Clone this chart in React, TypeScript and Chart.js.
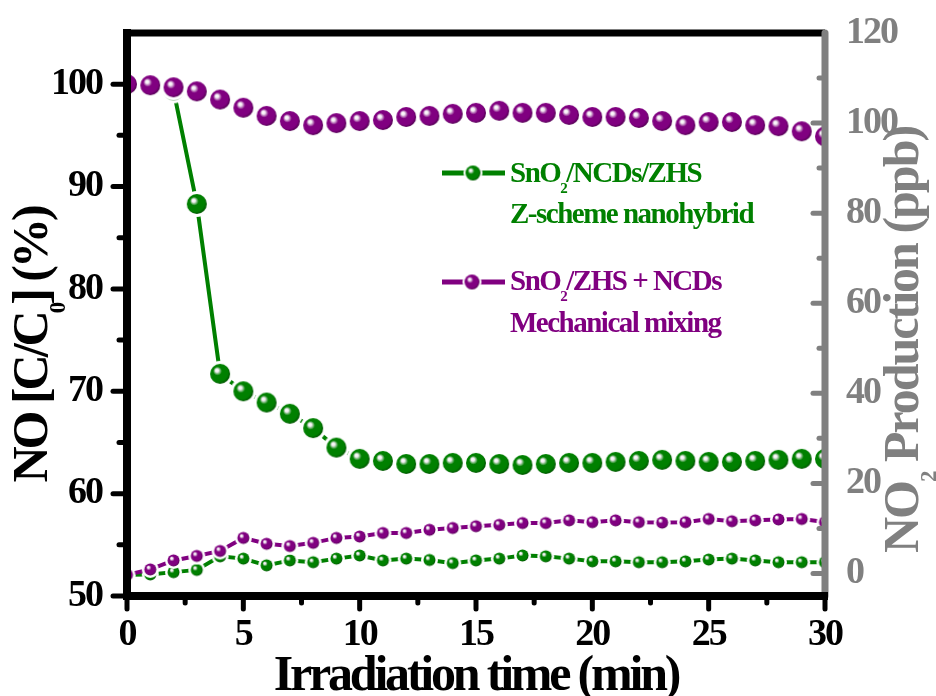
import React, { useEffect, useRef } from 'react';
import { Chart, registerables } from 'chart.js';

Chart.register(...registerables);

const FONT = '"Liberation Serif", "Times New Roman", serif';
const GREEN = '#008000';
const PURPLE = '#800080';
const GRAY = '#808080';

// Irradiation time (min)
const TIME = [0, 1, 2, 3, 4, 5, 6, 7, 8, 9, 10, 11, 12, 13, 14, 15, 16, 17, 18, 19, 20, 21, 22, 23, 24, 25, 26, 27, 28, 29, 30];

// NO [C/C0] (%) – left axis
const NO_ZSCHEME = [100, 100, 99.4, 88.3, 71.7, 70.0, 68.9, 67.8, 66.4, 64.5, 63.4, 63.2, 62.9, 62.9, 63.0, 63.0, 62.9, 62.8, 62.9, 63.0, 63.0, 63.1, 63.2, 63.3, 63.2, 63.1, 63.1, 63.2, 63.3, 63.4, 63.4];
const NO_MIXING = [100, 99.9, 99.7, 99.3, 98.5, 97.7, 96.9, 96.4, 96.0, 96.2, 96.4, 96.5, 96.8, 96.9, 97.1, 97.2, 97.4, 97.2, 97.2, 97.0, 96.8, 96.8, 96.7, 96.4, 96.0, 96.3, 96.3, 96.0, 95.9, 95.4, 94.9];

// NO2 production (ppb) – right axis
const NO2_ZSCHEME = [-0.3, -0.2, 0.3, 0.8, 3.8, 3.3, 1.8, 2.9, 2.5, 3.3, 4.0, 2.9, 3.3, 3.0, 2.3, 2.9, 3.3, 4.0, 3.8, 3.3, 2.7, 2.7, 2.5, 2.5, 2.7, 3.1, 3.3, 2.9, 2.5, 2.5, 2.5];
const NO2_MIXING = [-0.3, 0.9, 2.9, 3.9, 5.0, 7.9, 6.6, 6.1, 6.8, 7.9, 8.2, 9.0, 9.0, 9.7, 10.1, 10.5, 10.8, 11.2, 11.2, 11.8, 11.4, 11.8, 11.4, 11.3, 11.4, 12.1, 11.6, 11.8, 12.0, 12.1, 11.4];

// Tick values
const X_TICKS = [0, 5, 10, 15, 20, 25, 30];
const X_MINOR = [2.5, 7.5, 12.5, 17.5, 22.5, 27.5];
const LEFT_TICKS = [50, 60, 70, 80, 90, 100];
const LEFT_MINOR = [55, 65, 75, 85, 95];
const RIGHT_TICKS = [0, 20, 40, 60, 80, 100, 120];
const RIGHT_MINOR = [10, 30, 50, 70, 90, 110];

type Part = { t: string; sub?: boolean };

function makeSphere(color: string, dark: string, r: number, ring: number): HTMLCanvasElement {
  const R = r + ring;
  const size = Math.ceil(2 * R + 2);
  const c = document.createElement('canvas');
  c.width = size;
  c.height = size;
  const g = c.getContext('2d')!;
  const cx = size / 2;
  const cy = size / 2;
  if (ring > 0) {
    g.fillStyle = '#ffffff';
    g.beginPath();
    g.arc(cx, cy, R, 0, Math.PI * 2);
    g.fill();
  }
  const grad = g.createRadialGradient(cx - 0.35 * r, cy - 0.38 * r, 0, cx - 0.1 * r, cy - 0.1 * r, r * 1.15);
  grad.addColorStop(0, '#ffffff');
  grad.addColorStop(0.14, '#f4eef4');
  grad.addColorStop(0.38, color);
  grad.addColorStop(0.8, color);
  grad.addColorStop(1, dark);
  g.fillStyle = grad;
  g.beginPath();
  g.arc(cx, cy, r, 0, Math.PI * 2);
  g.fill();
  return c;
}

function drawRich(ctx: CanvasRenderingContext2D, parts: Part[], x: number, y: number, size: number, color: string, align: 'left' | 'center', spacing: number, subScale = 0.5, subShift = 0.37) {
  ctx.save();
  ctx.fillStyle = color;
  ctx.textBaseline = 'alphabetic';
  ctx.textAlign = 'left';
  (ctx as any).letterSpacing = spacing + 'px';
  const mainFont = `bold ${size}px ${FONT}`;
  const subFont = `bold ${Math.round(size * subScale)}px ${FONT}`;
  const widths = parts.map((p) => {
    ctx.font = p.sub ? subFont : mainFont;
    return ctx.measureText(p.t).width;
  });
  const total = widths.reduce((a, b) => a + b, 0);
  let cx = align === 'center' ? x - total / 2 : x;
  parts.forEach((p, i) => {
    ctx.font = p.sub ? subFont : mainFont;
    ctx.fillText(p.t, cx, p.sub ? y + size * subShift : y);
    cx += widths[i];
  });
  ctx.restore();
}

export default function App() {
  const ref = useRef<HTMLCanvasElement | null>(null);

  useEffect(() => {
    document.body.style.margin = '0';
    const canvas = ref.current!;
    const bigGreen = makeSphere(GREEN, '#004d00', 10, 3);
    const bigPurple = makeSphere(PURPLE, '#4d004d', 10, 3);
    const smallGreen = makeSphere(GREEN, '#004d00', 6, 2.5);
    const smallPurple = makeSphere(PURPLE, '#4d004d', 6, 2.5);
    const legGreen = makeSphere(GREEN, '#004d00', 7.5, 2);
    const legPurple = makeSphere(PURPLE, '#4d004d', 7.5, 2);

    const decor = {
      id: 'decor',
      beforeDraw(chart: any) {
        chart.ctx.letterSpacing = '-2px';
      },
      afterDatasetsDraw(chart: any) {
        const ctx: CanvasRenderingContext2D = chart.ctx;
        const { left, right, top, bottom } = chart.chartArea;
        const xs = chart.scales.x;
        const ys = chart.scales.y;
        const y1 = chart.scales.y1;
        ctx.save();
        ctx.lineCap = 'round';
        const seg = (x1: number, yA: number, x2: number, yB: number, w: number, c: string) => {
          ctx.strokeStyle = c;
          ctx.lineWidth = w;
          ctx.beginPath();
          ctx.moveTo(x1, yA);
          ctx.lineTo(x2, yB);
          ctx.stroke();
        };
        LEFT_TICKS.forEach((v) => { const y = ys.getPixelForValue(v); seg(left, y, left - 14, y, 5, '#000'); });
        LEFT_MINOR.forEach((v) => { const y = ys.getPixelForValue(v); seg(left, y, left - 8, y, 5, '#000'); });
        X_TICKS.forEach((v) => { const x = xs.getPixelForValue(v); seg(x, bottom, x, bottom + 13, 5, '#000'); });
        X_MINOR.forEach((v) => { const x = xs.getPixelForValue(v); seg(x, bottom, x, bottom + 7, 5, '#000'); });
        RIGHT_TICKS.forEach((v) => { const y = y1.getPixelForValue(v); seg(right, y, right - 12, y, 5, GRAY); });
        RIGHT_MINOR.forEach((v) => { const y = y1.getPixelForValue(v); seg(right, y, right - 6, y, 5, GRAY); });
        ctx.lineCap = 'butt';
        seg(left, top, right, top, 7, '#000');
        ctx.lineCap = 'round';
        seg(right, top, right, bottom, 7, GRAY);
        ctx.lineCap = 'square';
        seg(left, top, left, bottom, 8, '#000');
        ctx.lineCap = 'butt';
        seg(left, bottom, right + 3, bottom, 8, '#000');
        ctx.restore();
      },
      afterDraw(chart: any) {
        const ctx: CanvasRenderingContext2D = chart.ctx;
        const { left, right } = chart.chartArea;
        // axis titles
        drawRich(ctx, [{ t: 'Irradiation time (min)' }], (left + right) / 2, 690, 50, '#000', 'center', -3.2);
        ctx.save();
        ctx.translate(47, 345);
        ctx.rotate(-Math.PI / 2);
        drawRich(ctx, [{ t: 'NO [C/C' }, { t: '0', sub: true }, { t: '] (%)' }], 0, 0, 50, '#000', 'center', -3, 0.45, 0.36);
        ctx.restore();
        ctx.save();
        ctx.translate(918, 340);
        ctx.rotate(-Math.PI / 2);
        drawRich(ctx, [{ t: 'NO' }, { t: '2', sub: true }, { t: ' Production (ppb)' }], 0, 0, 50, GRAY, 'center', -2, 0.45, 0.36);
        ctx.restore();

        // legend
        ctx.save();
        ctx.lineWidth = 5;
        ctx.lineCap = 'butt';
        ctx.strokeStyle = GREEN;
        ctx.beginPath(); ctx.moveTo(442, 173); ctx.lineTo(505, 173); ctx.stroke();
        ctx.drawImage(legGreen, 473 - legGreen.width / 2, 173 - legGreen.height / 2);
        ctx.strokeStyle = PURPLE;
        ctx.beginPath(); ctx.moveTo(442, 282); ctx.lineTo(505, 282); ctx.stroke();
        ctx.drawImage(legPurple, 472 - legPurple.width / 2, 282 - legPurple.height / 2);
        ctx.restore();
        drawRich(ctx, [{ t: 'SnO' }, { t: '2', sub: true }, { t: '/NCDs/ZHS' }], 510, 182, 29, GREEN, 'left', -1.5, 0.5, 0.38);
        drawRich(ctx, [{ t: 'Z-scheme nanohybrid' }], 510, 223, 29, GREEN, 'left', -1.5);
        drawRich(ctx, [{ t: 'SnO' }, { t: '2', sub: true }, { t: '/ZHS + NCDs' }], 510, 290, 29, PURPLE, 'left', -1.5, 0.5, 0.38);
        drawRich(ctx, [{ t: 'Mechanical mixing' }], 510, 332, 29, PURPLE, 'left', -1.5);
      },
    };

    const tickFont = { family: FONT, size: 38, weight: 'bold' as const };

    const chart = new Chart(canvas, {
      type: 'line',
      data: {
        labels: TIME,
        datasets: [
          {
            label: 'SnO2/ZHS + NCDs (NO)',
            data: TIME.map((t, i) => ({ x: t, y: NO_MIXING[i] })),
            yAxisID: 'y',
            borderColor: PURPLE,
            borderWidth: 4,
            pointStyle: bigPurple as any,
            pointRadius: 10,
            order: 0,
            clip: 0 as any,
          },
          {
            label: 'SnO2/NCDs/ZHS (NO)',
            data: TIME.map((t, i) => ({ x: t, y: NO_ZSCHEME[i] })),
            yAxisID: 'y',
            borderColor: GREEN,
            borderWidth: 4,
            pointStyle: bigGreen as any,
            pointRadius: 10,
            order: 1,
            clip: 0 as any,
          },
          {
            label: 'SnO2/ZHS + NCDs (NO2)',
            data: TIME.map((t, i) => ({ x: t, y: NO2_MIXING[i] })),
            yAxisID: 'y1',
            borderColor: PURPLE,
            borderWidth: 4,
            pointStyle: smallPurple as any,
            pointRadius: 6,
            order: 2,
            clip: 0 as any,
          },
          {
            label: 'SnO2/NCDs/ZHS (NO2)',
            data: TIME.map((t, i) => ({ x: t, y: NO2_ZSCHEME[i] })),
            yAxisID: 'y1',
            borderColor: GREEN,
            borderWidth: 4,
            pointStyle: smallGreen as any,
            pointRadius: 6,
            order: 3,
            clip: 0 as any,
          },
        ],
      },
      options: {
        responsive: false,
        animation: false,
        devicePixelRatio: 1,
        layout: { padding: { top: 33, left: 0, right: 0, bottom: 0 } },
        plugins: { legend: { display: false }, tooltip: { enabled: false } },
        events: [],
        scales: {
          x: {
            type: 'linear',
            min: 0,
            max: 30,
            afterBuildTicks: (s: any) => { s.ticks = X_TICKS.map((v) => ({ value: v })); },
            afterFit: (s: any) => { s.height = 100; s.paddingLeft = 0; s.paddingRight = 0; },
            grid: { display: false },
            border: { display: false },
            ticks: { font: tickFont, color: '#000', padding: 8, maxRotation: 0, autoSkip: false },
          },
          y: {
            position: 'left',
            min: 50,
            max: 105,
            afterBuildTicks: (s: any) => { s.ticks = LEFT_TICKS.map((v) => ({ value: v })); },
            afterFit: (s: any) => { s.width = 127; s.paddingTop = 0; s.paddingBottom = 0; },
            grid: { display: false },
            border: { display: false },
            ticks: { font: tickFont, color: '#000', padding: 17, autoSkip: false },
          },
          y1: {
            position: 'right',
            min: -5,
            max: 120,
            afterBuildTicks: (s: any) => { s.ticks = RIGHT_TICKS.map((v) => ({ value: v })); },
            afterFit: (s: any) => { s.width = 111; s.paddingTop = 0; s.paddingBottom = 0; },
            grid: { display: false },
            border: { display: false },
            ticks: { font: tickFont, color: GRAY, padding: 13, autoSkip: false },
          },
        },
      },
      plugins: [decor],
    } as any);

    return () => chart.destroy();
  }, []);

  return <canvas ref={ref} width={936} height={696} style={{ display: 'block' }} />;
}
